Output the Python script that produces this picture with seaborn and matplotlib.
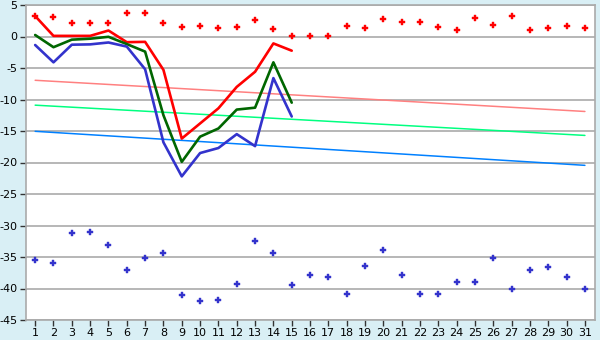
import matplotlib
matplotlib.use("Agg")
import matplotlib.pyplot as plt
import seaborn as sns
import pandas as pd
import numpy as np

days = list(range(1, 32))
line_days = list(range(1, 16))

red_line = [3.25, 0.1, 0.1, 0.1, 0.95, -0.9, -0.85, -5.3, -16.2, -13.8, -11.4, -8.0, -5.6, -1.1, -2.25]
green_line = [0.24, -1.7, -0.5, -0.35, -0.05, -1.2, -2.4, -12.5, -19.9, -15.9, -14.6, -11.6, -11.3, -4.1, -10.5]
blue_line = [-1.35, -4.1, -1.3, -1.25, -0.95, -1.6, -5.2, -16.8, -22.2, -18.5, -17.7, -15.5, -17.4, -6.6, -12.7]

red_dots = [3.25, 3.1, 2.2, 2.2, 2.2, 3.7, 3.7, 2.2, 1.45, 1.67, 1.3, 1.5, 2.57, 1.14, 0.05,
            0.05, 0.05, 1.67, 1.3, 2.7, 2.25, 2.25, 1.45, 0.98, 2.9, 1.77, 3.2, 0.98, 1.3, 1.6, 1.3]
blue_dots = [-35.5, -36.0, -31.2, -31.1, -33.1, -37.0, -35.2, -34.3, -41.1, -42.0, -41.9, -39.3, -32.5,
             -34.3, -39.5, -37.9, -38.1, -40.9, -36.5, -33.9, -37.9, -40.9, -40.9, -38.9, -38.9, -35.2,
             -40.0, -37.1, -36.6, -38.2, -40.0]

trend_days = [1, 31]
pink_trend = [-6.95, -11.9]
lime_trend = [-10.9, -15.7]
azure_trend = [-15.05, -20.45]

y_ticks = list(range(-45, 6, 5))

sns.set_style("white")
plt.rcParams['font.family'] = ['DejaVu Sans']

fig = plt.figure(figsize=(6, 3.4), dpi=100)
fig.patch.set_facecolor('#d9eff5')
ax = fig.add_axes([26/600, 1-320/340, (595-26)/600, (320-5)/340])
ax.set_facecolor('white')

for yv in y_ticks:
    ax.axhline(yv, color='#aaaaaa', lw=1.2, zorder=0)

trend_df = pd.DataFrame({'day': trend_days * 3,
                         'val': pink_trend + lime_trend + azure_trend,
                         'grp': ['p'] * 2 + ['g'] * 2 + ['b'] * 2})
sns.lineplot(data=trend_df, x='day', y='val', hue='grp',
             palette={'p': '#ff8080', 'g': '#00ff80', 'b': '#0080ff'},
             lw=1.1, legend=False, ax=ax, zorder=2)

line_df = pd.DataFrame({'day': line_days * 3,
                        'val': red_line + green_line + blue_line,
                        'grp': ['r'] * 15 + ['g'] * 15 + ['b'] * 15})
sns.lineplot(data=line_df, x='day', y='val', hue='grp',
             palette={'r': '#ff0000', 'g': '#006600', 'b': '#3333cc'},
             lw=1.9, legend=False, ax=ax, zorder=3)

sns.scatterplot(x=days, y=red_dots, marker='P', s=22, color='#ff0000', edgecolor='#ff0000',
                linewidth=0.3, ax=ax, zorder=4)
sns.scatterplot(x=days, y=blue_dots, marker='P', s=22, color='#3333cc', edgecolor='#3333cc',
                linewidth=0.3, ax=ax, zorder=4)

ax.set_xlim(0.5, 31.55)
ax.set_ylim(-45, 5)
ax.set_xticks(days)
ax.set_xticklabels([str(d) for d in days])
ax.set_yticks(y_ticks)
ax.set_yticklabels([str(v) for v in y_ticks])
ax.set_xlabel('')
ax.set_ylabel('')
for sp in ax.spines.values():
    sp.set_color('#aaaaaa')
    sp.set_linewidth(1.2)
ax.tick_params(axis='both', which='both', length=4, width=1, color='#333333',
               labelsize=8, labelcolor='black', direction='out', pad=2,
               bottom=True, left=True)

fig.savefig('out.png', dpi=100, facecolor=fig.get_facecolor())
